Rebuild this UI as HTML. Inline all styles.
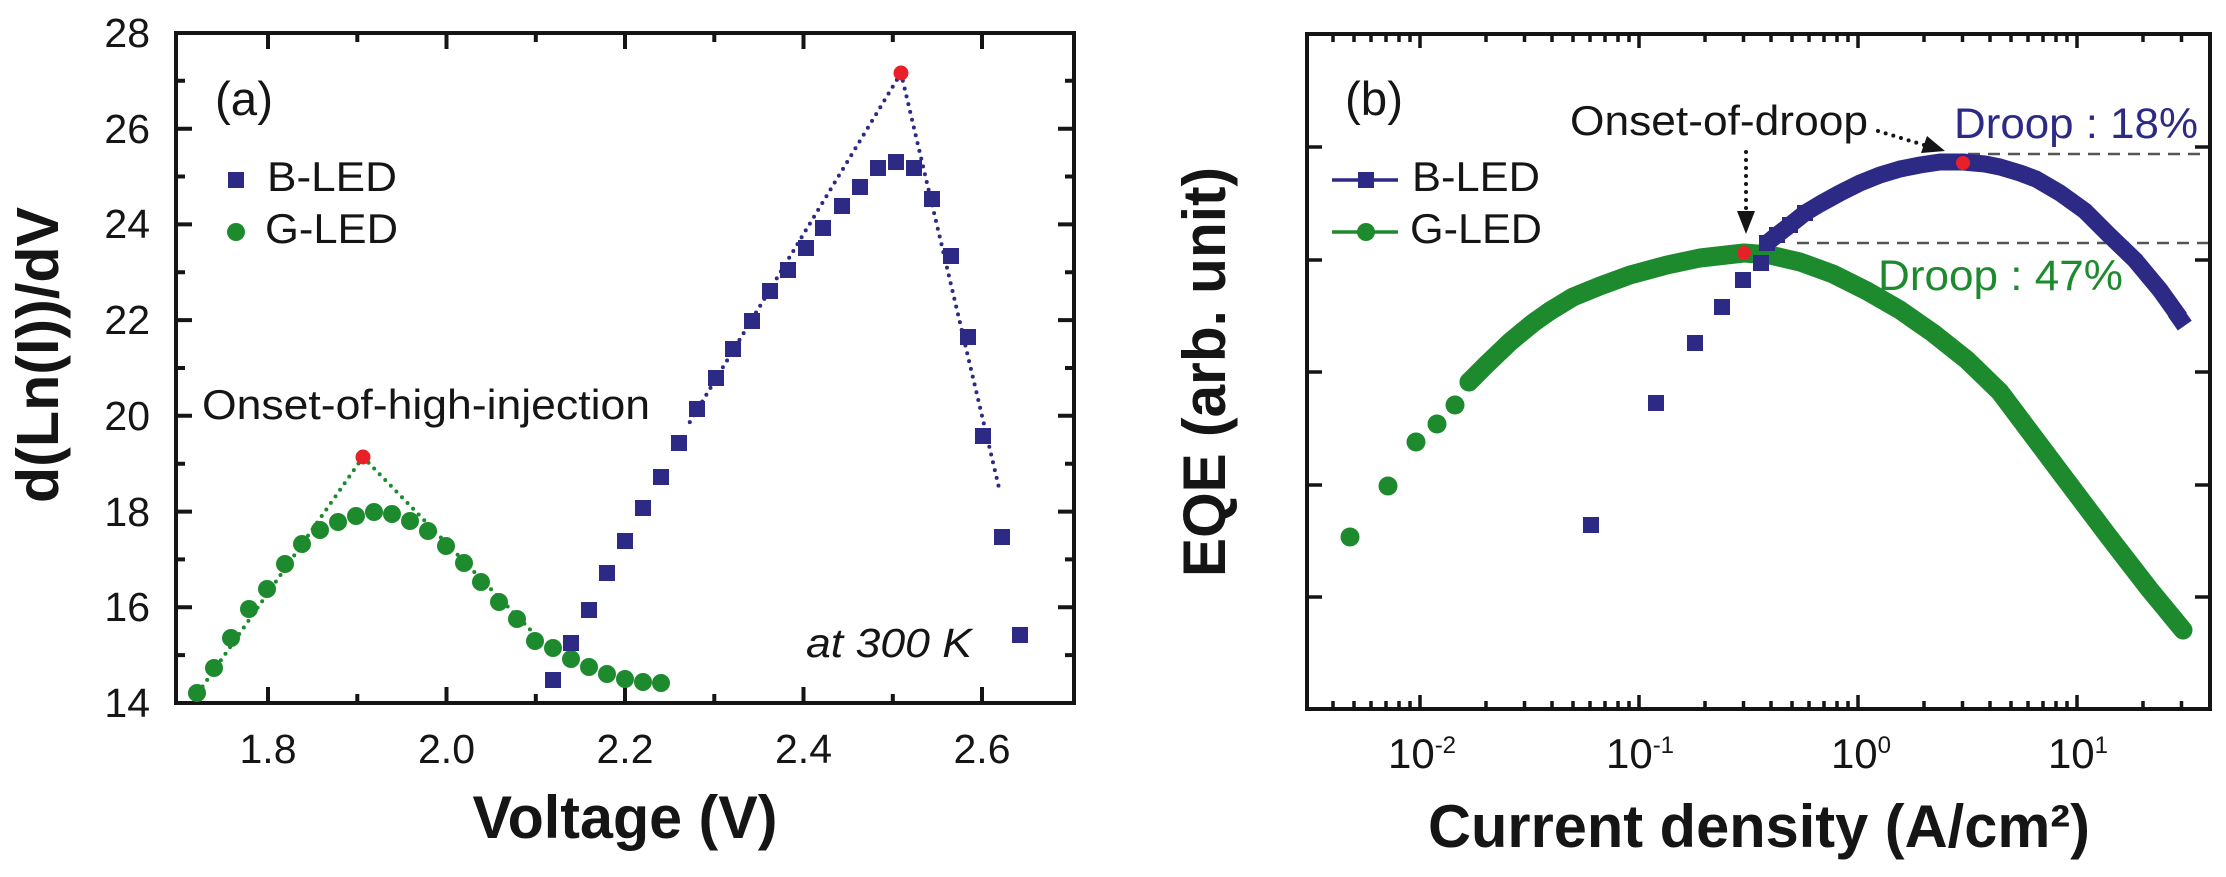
<!DOCTYPE html>
<html><head><meta charset="utf-8"><style>
html,body{margin:0;padding:0;background:#fff;}
svg{display:block;}
text{font-family:"Liberation Sans",Arial,sans-serif;fill:#151515;}
</style></head><body>
<svg width="2226" height="877" viewBox="0 0 2226 877" xmlns="http://www.w3.org/2000/svg">
<rect width="2226" height="877" fill="#fff"/>

<!-- ============ LEFT PANEL (a) ============ -->
<g stroke="#151515" stroke-width="4" fill="none">
<rect x="176" y="33" width="898" height="670"/>
<!-- y ticks left (major even, minor odd) -->
<path d="M176 655.1h9M176 607.3h16M176 559.4h9M176 511.6h16M176 463.7h9M176 415.8h16M176 368h9M176 320.1h16M176 272.3h9M176 224.4h16M176 176.5h9M176 128.7h16M176 80.8h9"/>
<!-- y ticks right -->
<path d="M1074 655.1h-9M1074 607.3h-16M1074 559.4h-9M1074 511.6h-16M1074 463.7h-9M1074 415.8h-16M1074 368h-9M1074 320.1h-16M1074 272.3h-9M1074 224.4h-16M1074 176.5h-9M1074 128.7h-16M1074 80.8h-9"/>
<!-- x ticks bottom -->
<path d="M268 703v-16M357.3 703v-9M446.5 703v-16M535.8 703v-9M625 703v-16M714.3 703v-9M803.5 703v-16M892.8 703v-9M982 703v-16"/>
<!-- x ticks top -->
<path d="M268 33v16M357.3 33v9M446.5 33v16M535.8 33v9M625 33v16M714.3 33v9M803.5 33v16M892.8 33v9M982 33v16"/>
</g>
<g font-size="41" text-anchor="end">
<text x="150" y="717">14</text><text x="150" y="621">16</text><text x="150" y="526">18</text><text x="150" y="430">20</text>
<text x="150" y="334">22</text><text x="150" y="238">24</text><text x="150" y="143">26</text><text x="150" y="47">28</text>
</g>
<g font-size="41" text-anchor="middle">
<text x="268" y="763">1.8</text><text x="446.5" y="763">2.0</text><text x="625" y="763">2.2</text><text x="803.5" y="763">2.4</text><text x="982" y="763">2.6</text>
</g>
<text x="625" y="838" font-size="60" font-weight="bold" text-anchor="middle" textLength="305" lengthAdjust="spacingAndGlyphs">Voltage (V)</text>
<text transform="translate(58,355) rotate(-90)" font-size="59" font-weight="bold" text-anchor="middle" textLength="296" lengthAdjust="spacingAndGlyphs">d(Ln(I))/dV</text>

<text x="215" y="115" font-size="47" textLength="58" lengthAdjust="spacingAndGlyphs">(a)</text>
<rect x="228" y="172" width="16" height="16" fill="#2d2a86"/>
<text x="267" y="191" font-size="42" textLength="130" lengthAdjust="spacingAndGlyphs">B-LED</text>
<circle cx="236" cy="232" r="9" fill="#1e8a2e"/>
<text x="265" y="243" font-size="42" textLength="133" lengthAdjust="spacingAndGlyphs">G-LED</text>

<text x="202" y="419" font-size="42" textLength="448" lengthAdjust="spacingAndGlyphs">Onset-of-high-injection</text>
<text x="806" y="657" font-size="41" font-style="italic" textLength="166" lengthAdjust="spacingAndGlyphs">at 300 K</text>

<!-- green dotted fit lines -->
<g stroke="#1e8a2e" stroke-width="4" stroke-linecap="round" stroke-dasharray="0 8" fill="none">
<path d="M363 457L198 693"/><path d="M363 457L545 645"/>
</g>
<!-- blue dotted fit lines -->
<g stroke="#2d2a86" stroke-width="4" stroke-linecap="round" stroke-dasharray="0 8" fill="none">
<path d="M901 73L688 425"/><path d="M901 73L1000 492"/>
</g>

<!-- green circles -->
<g fill="#1e8a2e">
<circle cx="197" cy="693" r="9"/><circle cx="214" cy="668" r="9"/><circle cx="231" cy="638" r="9"/><circle cx="249" cy="609" r="9"/>
<circle cx="267" cy="589" r="9"/><circle cx="285" cy="564" r="9"/><circle cx="302" cy="544" r="9"/><circle cx="320" cy="530" r="9"/>
<circle cx="338" cy="522" r="9"/><circle cx="356" cy="516" r="9"/><circle cx="374" cy="512" r="9"/><circle cx="392" cy="514" r="9"/>
<circle cx="410" cy="521" r="9"/><circle cx="428" cy="531" r="9"/><circle cx="446" cy="546" r="9"/><circle cx="464" cy="563" r="9"/>
<circle cx="481" cy="582" r="9"/><circle cx="499" cy="602" r="9"/><circle cx="517" cy="619" r="9"/><circle cx="535" cy="641" r="9"/>
<circle cx="553" cy="648" r="9"/><circle cx="571" cy="659" r="9"/><circle cx="589" cy="667" r="9"/><circle cx="607" cy="674" r="9"/>
<circle cx="625" cy="679" r="9"/><circle cx="643" cy="682" r="9"/><circle cx="661" cy="683" r="9"/>
</g>
<!-- blue squares -->
<g fill="#2d2a86">
<rect x="545" y="672" width="16" height="16"/><rect x="563" y="635" width="16" height="16"/><rect x="581" y="602" width="16" height="16"/>
<rect x="599" y="565" width="16" height="16"/><rect x="617" y="533" width="16" height="16"/><rect x="635" y="500" width="16" height="16"/>
<rect x="653" y="469" width="16" height="16"/><rect x="671" y="435" width="16" height="16"/><rect x="689" y="401" width="16" height="16"/>
<rect x="708" y="370" width="16" height="16"/><rect x="725" y="341" width="16" height="16"/><rect x="744" y="313" width="16" height="16"/>
<rect x="762" y="283" width="16" height="16"/><rect x="780" y="262" width="16" height="16"/><rect x="798" y="240" width="16" height="16"/>
<rect x="815" y="220" width="16" height="16"/><rect x="834" y="198" width="16" height="16"/><rect x="852" y="179" width="16" height="16"/>
<rect x="870" y="160" width="16" height="16"/><rect x="888" y="154" width="16" height="16"/><rect x="906" y="160" width="16" height="16"/>
<rect x="924" y="191" width="16" height="16"/><rect x="943" y="248" width="16" height="16"/><rect x="960" y="329" width="16" height="16"/>
<rect x="975" y="428" width="16" height="16"/><rect x="994" y="529" width="16" height="16"/><rect x="1012" y="627" width="16" height="16"/>
</g>
<circle cx="363" cy="457" r="7.5" fill="#e8202a"/>
<circle cx="901" cy="73" r="7.5" fill="#e8202a"/>

<!-- ============ RIGHT PANEL (b) ============ -->
<g stroke="#151515" stroke-width="4" fill="none">
<rect x="1307" y="34" width="903" height="675"/>
</g>
<g stroke="#151515" stroke-width="3.5" fill="none">
<path d="M1307 147h15M1307 260h15M1307 372h15M1307 485h15M1307 597h15"/>
<path d="M2210 147h-15M2210 260h-15M2210 372h-15M2210 485h-15M2210 597h-15"/>
<!-- bottom x ticks -->
<path d="M1420 709v-14M1639 709v-14M1858 709v-14M2077 709v-14"/>
<path d="M1333 709v-8M1354 709v-8M1371 709v-8M1386 709v-8M1399 709v-8M1410 709v-8
M1486 709v-8M1524.5 709v-8M1552 709v-8M1573 709v-8M1590 709v-8M1605 709v-8M1618 709v-8M1629 709v-8
M1705 709v-8M1743.5 709v-8M1771 709v-8M1792 709v-8M1809 709v-8M1824 709v-8M1837 709v-8M1848 709v-8
M1924 709v-8M1962.5 709v-8M1990 709v-8M2011 709v-8M2028 709v-8M2043 709v-8M2056 709v-8M2067 709v-8
M2143 709v-8M2181.5 709v-8"/>
<!-- top x ticks -->
<path d="M1420 34v14M1639 34v14M1858 34v14M2077 34v14"/>
<path d="M1333 34v8M1354 34v8M1371 34v8M1386 34v8M1399 34v8M1410 34v8
M1486 34v8M1524.5 34v8M1552 34v8M1573 34v8M1590 34v8M1605 34v8M1618 34v8M1629 34v8
M1705 34v8M1743.5 34v8M1771 34v8M1792 34v8M1809 34v8M1824 34v8M1837 34v8M1848 34v8
M1924 34v8M1962.5 34v8M1990 34v8M2011 34v8M2028 34v8M2043 34v8M2056 34v8M2067 34v8
M2143 34v8M2181.5 34v8"/>
</g>
<g font-size="42" text-anchor="middle">
<text x="1422" y="768">10<tspan dy="-15" font-size="24">-2</tspan></text>
<text x="1640" y="768">10<tspan dy="-15" font-size="24">-1</tspan></text>
<text x="1861" y="768">10<tspan dy="-15" font-size="24">0</tspan></text>
<text x="2078" y="768">10<tspan dy="-15" font-size="24">1</tspan></text>
</g>
<text x="1759" y="847" font-size="60" font-weight="bold" text-anchor="middle" textLength="662" lengthAdjust="spacingAndGlyphs">Current density (A/cm²)</text>
<text transform="translate(1225,372) rotate(-90)" font-size="60" font-weight="bold" text-anchor="middle" textLength="410" lengthAdjust="spacingAndGlyphs">EQE (arb. unit)</text>

<text x="1345" y="115" font-size="47" textLength="58" lengthAdjust="spacingAndGlyphs">(b)</text>
<line x1="1332" y1="180" x2="1398" y2="180" stroke="#2d2a86" stroke-width="3.5"/>
<rect x="1358" y="172" width="16" height="16" fill="#2d2a86"/>
<text x="1412" y="191" font-size="42" textLength="128" lengthAdjust="spacingAndGlyphs">B-LED</text>
<line x1="1332" y1="232" x2="1398" y2="232" stroke="#1e8a2e" stroke-width="3.5"/>
<circle cx="1366" cy="232" r="9" fill="#1e8a2e"/>
<text x="1410" y="243" font-size="42" textLength="132" lengthAdjust="spacingAndGlyphs">G-LED</text>

<!-- dashed reference lines -->
<g stroke="#555" stroke-width="2.5" stroke-dasharray="12 8" fill="none">
<path d="M1968 154H2208"/><path d="M1797 243H2208"/>
</g>

<!-- green curve -->
<g fill="#1e8a2e">
<circle cx="1350" cy="537" r="9.5"/><circle cx="1388" cy="486" r="9.5"/><circle cx="1416" cy="442" r="9.5"/>
<circle cx="1437" cy="424" r="9.5"/><circle cx="1455" cy="405" r="9.5"/><circle cx="1469" cy="382" r="9.5"/>
</g>
<polyline fill="none" stroke="#1e8a2e" stroke-width="19" stroke-linecap="round" stroke-linejoin="round"
points="1469,382 1487,364 1510,342 1533,323 1550,311 1573,297 1600,286 1630,275 1667,265 1700,258 1744,253 1770,255 1800,262 1833,274 1867,291 1900,310 1933,333 1967,360 2000,392 2030,432 2060,472 2109,537 2150,590 2183,630"/>

<!-- blue curve -->
<g fill="#2d2a86">
<rect x="1583" y="517" width="16" height="16"/><rect x="1648" y="395" width="16" height="16"/><rect x="1687" y="335" width="16" height="16"/>
<rect x="1714" y="299" width="16" height="16"/><rect x="1735" y="272" width="16" height="16"/><rect x="1753" y="255" width="16" height="16"/>
<rect x="1759" y="235" width="16" height="16"/><rect x="1769" y="227" width="16" height="16"/><rect x="1782" y="217" width="16" height="16"/>
<rect x="1797" y="205" width="16" height="16"/>
</g>
<polyline fill="none" stroke="#2d2a86" stroke-width="17" stroke-linejoin="round"
points="1767,243 1777,235 1790,225 1805,213 1820,204 1840,193 1860,183 1880,175 1900,169 1920,165 1940,162 1963,162 1985,164 2000,167 2020,173 2036,179 2060,193 2085,211 2109,235 2135,260 2160,290 2180,318"/>
<rect x="2171" y="310" width="17" height="17" fill="#2d2a86" transform="rotate(-35 2180 318)"/>

<circle cx="1744" cy="253" r="7" fill="#e8202a"/>
<circle cx="1963" cy="163" r="7" fill="#e8202a"/>

<!-- annotations -->
<text x="1570" y="135" font-size="42" textLength="298" lengthAdjust="spacingAndGlyphs">Onset-of-droop</text>
<g stroke="#151515" stroke-width="4" stroke-linecap="round" stroke-dasharray="0 8" fill="none">
<path d="M1746 152V212"/><path d="M1878 131L1924 145"/>
</g>
<polygon points="1737,211 1755,211 1746,234" fill="#151515"/>
<polygon points="1945,151 1921,153 1927,136" fill="#151515"/>
<text x="1954" y="138" font-size="43" fill="#2d2a86" style="fill:#2d2a86" textLength="244" lengthAdjust="spacingAndGlyphs">Droop : 18%</text>
<text x="1878" y="290" font-size="43" fill="#1e8a2e" style="fill:#1e8a2e" textLength="245" lengthAdjust="spacingAndGlyphs">Droop : 47%</text>
</svg>
</body></html>
